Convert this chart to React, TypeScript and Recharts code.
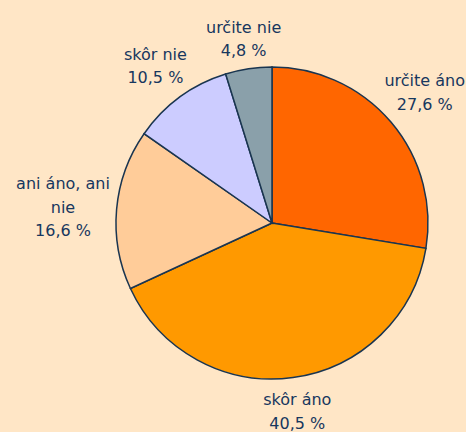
import React from "react";
import { PieChart, Pie, Cell } from "recharts";

const categories = ["určite áno", "skôr áno", "ani áno, ani nie", "skôr nie", "určite nie"];
const shares = [27.6, 40.5, 16.6, 10.5, 4.8];
const sliceColors = ["#FF6600", "#FF9900", "#FFCC99", "#CCCCFF", "#8AA0AA"];

const chartData = categories.map((name, i) => ({ name, value: shares[i] }));

const W = 466;
const H = 432;
const FONT = "16px 'DejaVu Sans'";
const LINE_H = 23.5;
const WRAP_W = 100;
const TEXT_COLOR = "#17375E";

let ctx: CanvasRenderingContext2D | null = null;
const textWidth = (s: string) => {
  if (!ctx) ctx = document.createElement("canvas").getContext("2d");
  if (!ctx) return s.length * 8.5;
  ctx.font = FONT;
  return ctx.measureText(s).width;
};

// greedy word wrap, like the label box in the original
const wrap = (s: string) => {
  const words = s.split(" ");
  const lines: string[] = [];
  let cur = "";
  words.forEach((w) => {
    const next = cur ? cur + " " + w : w;
    if (cur && textWidth(next) > WRAP_W) {
      lines.push(cur);
      cur = w;
    } else cur = next;
  });
  if (cur) lines.push(cur);
  return lines;
};

const RAD = Math.PI / 180;

const renderLabel = (props: any) => {
  const { cx, cy, midAngle, outerRadius, name, value } = props;
  const lines = [...wrap(name), value.toFixed(1).replace(".", ",") + " %"];
  const hw = Math.max(...lines.map(textWidth)) / 2;
  const hh = (lines.length * LINE_H) / 2;
  const ux = Math.cos(-midAngle * RAD);
  const uy = Math.sin(-midAngle * RAD);
  // push the label box out until it clears the pie edge
  const d = outerRadius + 4 + hw * Math.abs(ux) + hh * Math.abs(uy);
  // keep the box inside the chart area
  const x = Math.min(Math.max(cx + d * ux, hw + 1), W - hw - 1);
  const y = cy + d * uy;
  const top = y - hh + 2.5;
  return (
    <text
      x={x}
      y={y}
      textAnchor="middle"
      fill={TEXT_COLOR}
      style={{ font: FONT }}
    >
      {lines.map((l, i) => (
        <tspan key={i} x={x} y={top + (i + 0.5) * LINE_H} dominantBaseline="central">
          {l}
        </tspan>
      ))}
    </text>
  );
};

export default function App() {
  return (
    <div
      style={{
        position: "fixed",
        left: 0,
        top: 0,
        width: W,
        height: H,
        background: "#FFE6C6",
      }}
    >
      <PieChart width={W} height={H} margin={{ top: 0, right: 0, bottom: 0, left: 0 }}>
        <Pie
          data={chartData}
          dataKey="value"
          nameKey="name"
          cx={272}
          cy={223}
          outerRadius={156}
          startAngle={90}
          endAngle={-270}
          stroke="#1A3550"
          strokeWidth={1.5}
          label={renderLabel}
          labelLine={false}
          isAnimationActive={false}
        >
          {chartData.map((d, i) => (
            <Cell key={d.name} fill={sliceColors[i]} />
          ))}
        </Pie>
      </PieChart>
    </div>
  );
}
